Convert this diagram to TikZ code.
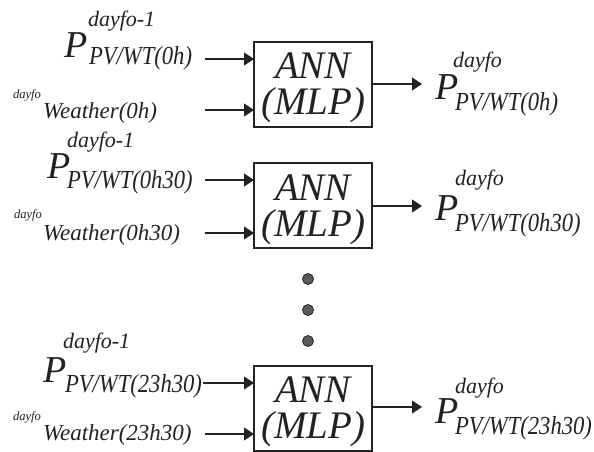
\documentclass[tikz,border=0pt]{standalone}
\usepackage{fontspec}
\newfontfamily\timesit{Liberation Serif Italic}
\newfontfamily\subfnt{Liberation Serif Italic}[FakeStretch=0.87]
\usetikzlibrary{arrows.meta}
\definecolor{ink}{HTML}{222222}
\definecolor{dotfill}{HTML}{5A5A5A}

\begin{document}
\begin{tikzpicture}[x=1pt,y=-1pt,
  every node/.style={inner sep=0pt, outer sep=0pt, text=ink},
  bigp/.style={anchor=base west, font=\timesit\fontsize{38}{38}\selectfont},
  subl/.style={anchor=base west, font=\subfnt\fontsize{26}{26}\selectfont},
  supl/.style={anchor=base west, font=\timesit\fontsize{22}{22}\selectfont},
  tinyl/.style={anchor=base west, font=\timesit\fontsize{12.6}{12.6}\selectfont},
  wthr/.style={anchor=base west, font=\timesit\fontsize{23}{23}\selectfont},
  annbox/.style={draw=ink, line width=1.1pt, minimum width=118pt, minimum height=85pt},
  anntxt/.style={anchor=base, font=\timesit\fontsize{39}{39}\selectfont},
  flow/.style={draw=ink, line width=1.2pt, -{Triangle[length=10pt,width=13pt]}},
  dotmark/.style={circle, draw=ink, fill=dotfill, line width=0.8pt, minimum size=11pt}
]
\useasboundingbox[fill=white] (0,0) rectangle (594,452);

% ---------- block 1 : 0h ----------
\node[annbox] (b1) at (313,84.5) {};
\node[anntxt] (b1a) at (313,78) {ANN};
\node[anntxt] (b1b) at (313,114) {(MLP)};

\node[supl] (s1) at (88,27) {dayfo-1};
\node[bigp] (p1) at (64,57) {P};
\node[subl] (u1) at (89,65) {PV/WT(0h)};
\node[tinyl] (t1) at (13,98) {dayfo};
\node[wthr] (w1) at (43,118) {Weather(0h)};

\node[supl] (os1) at (453,67) {dayfo};
\node[bigp] (op1) at (435,99) {P};
\node[subl] (ou1) at (455,110) {PV/WT(0h)};

\coordinate (i1a) at (205,59);
\coordinate (i1b) at (205,110);
\coordinate (o1) at (422,84);
\draw[flow] (i1a) -- (i1a -| b1.west);
\draw[flow] (i1b) -- (i1b -| b1.west);
\draw[flow] (b1.east |- o1) -- (o1);

% ---------- block 2 : 0h30 ----------
\node[annbox] (b2) at (313,205.5) {};
\node[anntxt] (b2a) at (313,200) {ANN};
\node[anntxt] (b2b) at (313,236) {(MLP)};

\node[supl] (s2) at (67,147) {dayfo-1};
\node[bigp] (p2) at (47,178) {P};
\node[subl] (u2) at (67,188) {PV/WT(0h30)};
\node[tinyl] (t2) at (14,218) {dayfo};
\node[wthr] (w2) at (43,240) {Weather(0h30)};

\node[supl] (os2) at (455,185) {dayfo};
\node[bigp] (op2) at (435,220) {P};
\node[subl] (ou2) at (455,231) {PV/WT(0h30)};

\coordinate (i2a) at (205,180);
\coordinate (i2b) at (205,233);
\coordinate (o2) at (422,206);
\draw[flow] (i2a) -- (i2a -| b2.west);
\draw[flow] (i2b) -- (i2b -| b2.west);
\draw[flow] (b2.east |- o2) -- (o2);

% ---------- vertical ellipsis ----------
\node[dotmark] (d1) at (308,279) {};
\node[dotmark] (d2) at (308,310) {};
\node[dotmark] (d3) at (308,341) {};

% ---------- block 3 : 23h30 ----------
\node[annbox] (b3) at (313,408.5) {};
\node[anntxt] (b3a) at (313,402) {ANN};
\node[anntxt] (b3b) at (313,438) {(MLP)};

\node[supl] (s3) at (63,348) {dayfo-1};
\node[bigp] (p3) at (43,382) {P};
\node[subl] (u3) at (65,392) {PV/WT(23h30)};
\node[tinyl] (t3) at (13,420) {dayfo};
\node[wthr] (w3) at (43,440) {Weather(23h30)};

\node[supl] (os3) at (455,393) {dayfo};
\node[bigp] (op3) at (435,423) {P};
\node[subl] (ou3) at (455,434) {PV/WT(23h30)};

\coordinate (i3a) at (203,383);
\coordinate (i3b) at (205,434);
\coordinate (o3) at (422,407);
\draw[flow] (i3a) -- (i3a -| b3.west);
\draw[flow] (i3b) -- (i3b -| b3.west);
\draw[flow] (b3.east |- o3) -- (o3);
\end{tikzpicture}
\end{document}
